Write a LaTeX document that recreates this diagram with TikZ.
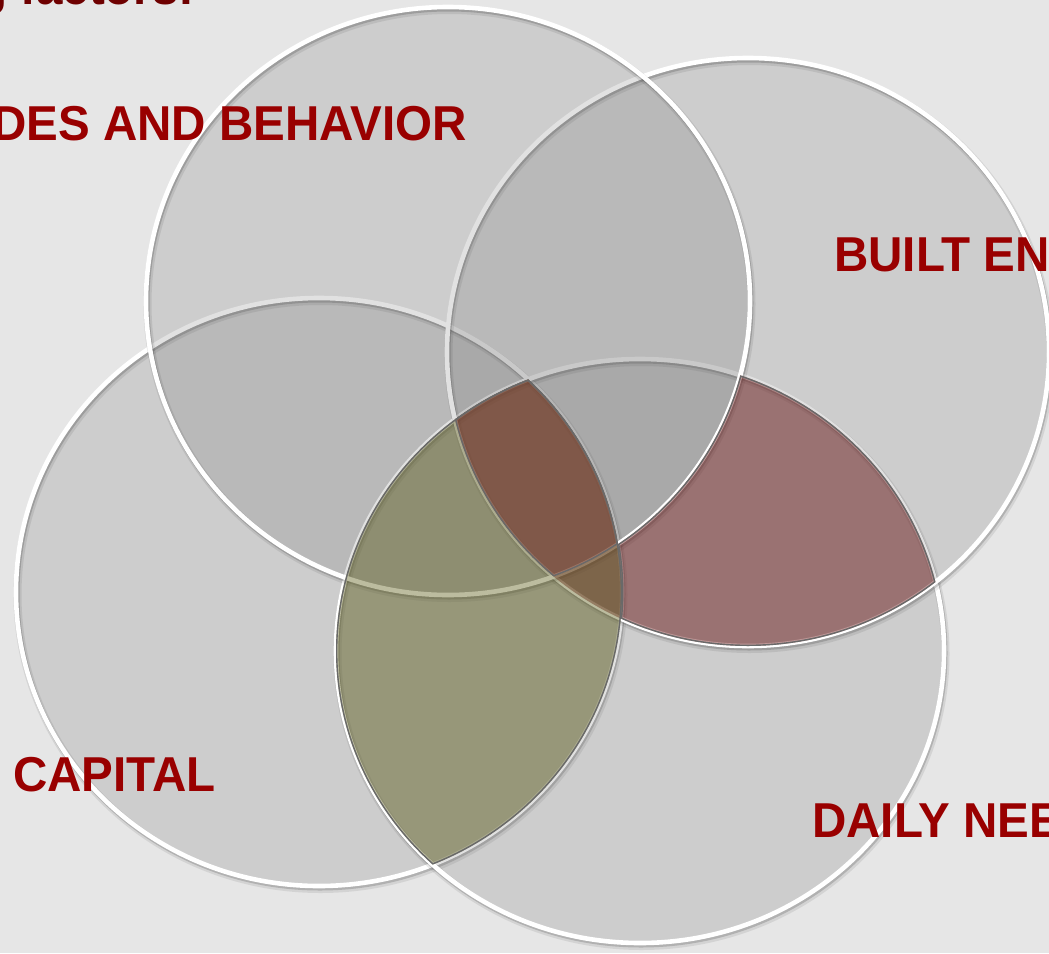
\documentclass[tikz,border=0pt]{standalone}
\usepackage{fontspec}
\setmainfont{Liberation Sans}
\definecolor{bgc}{RGB}{230,230,230}
\definecolor{cfill}{RGB}{100,100,100}
\definecolor{olivec}{RGB}{113,113,51}
\definecolor{redc}{RGB}{121,36,36}
\definecolor{brownc}{RGB}{107,56,32}
\definecolor{labred}{RGB}{153,0,0}
\definecolor{titlec}{RGB}{110,0,0}
\definecolor{edgec}{RGB}{105,105,105}
\tikzset{
  cA/.style={insert path={(448,301) ellipse [x radius=302, y radius=294]}},
  cB/.style={insert path={(748,352) ellipse [x radius=301, y radius=294]}},
  cC/.style={insert path={(319,592) ellipse [x radius=303, y radius=294]}},
  cD/.style={insert path={(640,651) ellipse [x radius=304, y radius=292]}},
  bigframe/.style={insert path={(-20,-20) -- (-20,1000) -- (1100,1000) -- (1100,-20) -- cycle}},
  circfill/.style={fill=cfill, fill opacity=0.19},
  shadowa/.style={draw=black, draw opacity=0.08, line width=8},
  shadowb/.style={draw=black, draw opacity=0.16, line width=5},
  rim/.style={draw=white, line width=4.6},
  vlabel/.style={font=\bfseries\fontsize{49}{55}\selectfont, text=labred, inner sep=0pt, xscale=0.97},
  regedge/.style={draw=edgec, line width=2.8},
  tint/.style={fill opacity=0.47},
}
\begin{document}
\begin{tikzpicture}[x=1pt, y=-1pt]
\useasboundingbox (0,0) rectangle (1049,953);
\clip (0,0) rectangle (1049,953);
\fill[bgc] (0,0) rectangle (1049,953);

% circles: fill, shadow, white rim
\foreach \c in {cC,cD,cB,cA}{
  \path[circfill, \c];
  \path[shift={(1.5,3)}, shadowa, \c];
  \path[shift={(1,2)}, shadowb, \c];
  \path[rim, \c];
}

% olive lens: C and D
\begin{scope}
  \clip[cC]; \clip[cD];
  \fill[olivec, tint] (0,0) rectangle (1049,953);
\end{scope}
% red: B and D, outside A and C
\begin{scope}
  \clip[cB]; \clip[cD]; \clip[bigframe, cA]; \clip[bigframe, cC];
  \fill[redc, tint] (0,0) rectangle (1049,953);
\end{scope}
% red: all four
\begin{scope}
  \clip[cA]; \clip[cB]; \clip[cC]; \clip[cD];
  \fill[redc, tint] (0,0) rectangle (1049,953);
\end{scope}
% brown: B, C, D outside A
\begin{scope}
  \clip[cB]; \clip[cC]; \clip[cD]; \clip[bigframe, cA];
  \fill[brownc, tint] (0,0) rectangle (1049,953);
\end{scope}

% dark outlines of the coloured regions
\begin{scope}
  \clip[cC]; \clip[cD];
  \path[regedge, cC, cD];
\end{scope}
\begin{scope}
  \clip[cB]; \clip[cD]; \clip[bigframe, cA]; \clip[bigframe, cC];
  \path[regedge, cA, cB, cC, cD];
\end{scope}
\begin{scope}
  \clip[cA]; \clip[cB]; \clip[cC]; \clip[cD];
  \path[regedge, cA, cB, cC, cD];
\end{scope}

% texts
\node[vlabel, text=titlec, anchor=base west] (t0) at (-22,5) {g factors:};
\node[vlabel, anchor=base east] (tA) at (467,140) {DES AND BEHAVIOR};
\node[vlabel, anchor=base west] (tB) at (834,271) {BUILT EN};
\node[vlabel, anchor=base west] (tC) at (13,791) {CAPITAL};
\node[vlabel, anchor=base west] (tD) at (812,837) {DAILY NEE};
\end{tikzpicture}
\end{document}
